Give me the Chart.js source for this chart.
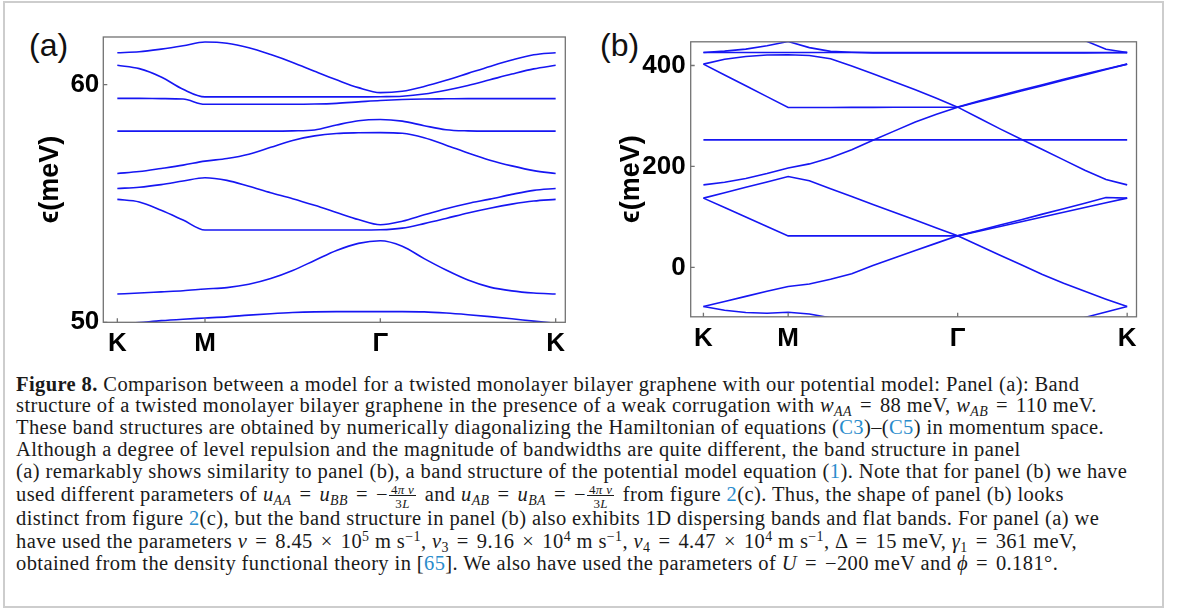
<!DOCTYPE html>
<html><head><meta charset="utf-8">
<script src="https://cdn.jsdelivr.net/npm/chart.js@4/dist/chart.umd.min.js"></script>
<style>
html,body{margin:0;padding:0;background:#fff;}
body{width:1179px;height:613px;position:relative;overflow:hidden;}
#frame{position:absolute;left:3px;top:1px;width:1161px;height:607px;border:2px solid #cdcdcd;box-sizing:border-box;}
.plab{position:absolute;font-family:"Liberation Sans",Arial,sans-serif;font-size:32px;line-height:32px;color:#111;}
canvas{position:absolute;top:0;}
.cap{position:absolute;left:16px;font-family:"Liberation Serif","Times New Roman",serif;font-size:20.5px;letter-spacing:0.4px;line-height:22px;white-space:nowrap;color:#1a1a1a;}
.cap i{font-style:italic;}
.cap a{color:#2a8ccc;text-decoration:none;}
.cap .o{margin:0 2.5px;}
.cap sub{font-size:0.68em;vertical-align:baseline;position:relative;top:0.3em;line-height:0;}
.cap sup{font-size:0.68em;vertical-align:baseline;position:relative;top:-0.48em;line-height:0;}
.fr{display:inline-flex;flex-direction:column;align-items:center;vertical-align:7px;font-size:13px;letter-spacing:0.3px;line-height:11px;margin:0 3px 0 1px;}
.fr .n{border-bottom:1px solid #1a1a1a;padding:0 2px;}
.fr .d{padding-top:2px;}
</style>
</head>
<body>
<div id="frame"></div>
<div class="plab" style="left:29px;top:29px;">(a)</div>
<div class="plab" style="left:600px;top:29px;">(b)</div>
<canvas id="ca" width="580" height="360" style="left:0px;"></canvas>
<canvas id="cb" width="599" height="360" style="left:580px;"></canvas>

<div class="cap" style="top:372.5px;"><b>Figure 8.</b> Comparison between a model for a twisted monolayer bilayer graphene with our potential model: Panel (a): Band</div>
<div class="cap" style="top:394px;">structure of a twisted monolayer bilayer graphene in the presence of a weak corrugation with <i>w</i><sub><i>AA</i></sub> <span class="o">=</span> 88 meV, <i>w</i><sub><i>AB</i></sub> <span class="o">=</span> 110 meV.</div>
<div class="cap" style="top:416px;">These band structures are obtained by numerically diagonalizing the Hamiltonian of equations (<a>C3</a>)–(<a>C5</a>) in momentum space.</div>
<div class="cap" style="top:437.5px;">Although a degree of level repulsion and the magnitude of bandwidths are quite different, the band structure in panel</div>
<div class="cap" style="top:459.5px;">(a) remarkably shows similarity to panel (b), a band structure of the potential model equation (<a>1</a>). Note that for panel (b) we have</div>
<div class="cap" style="top:483px;">used different parameters of <i>u</i><sub><i>AA</i></sub> <span class="o">=</span> <i>u</i><sub><i>BB</i></sub> <span class="o">=</span> −<span class="fr"><span class="n">4<i>π v</i></span><span class="d">3<i>L</i></span></span> and <i>u</i><sub><i>AB</i></sub> <span class="o">=</span> <i>u</i><sub><i>BA</i></sub> <span class="o">=</span> −<span class="fr"><span class="n">4<i>π v</i></span><span class="d">3<i>L</i></span></span> from figure <a>2</a>(c). Thus, the shape of panel (b) looks</div>
<div class="cap" style="top:506.5px;">distinct from figure <a>2</a>(c), but the band structure in panel (b) also exhibits 1D dispersing bands and flat bands. For panel (a) we</div>
<div class="cap" style="top:529.5px;">have used the parameters <i>v</i> <span class="o">=</span> 8.45 <span class="o">×</span> 10<sup>5</sup> m s<sup>−1</sup>, <i>v</i><sub>3</sub> <span class="o">=</span> 9.16 <span class="o">×</span> 10<sup>4</sup> m s<sup>−1</sup>, <i>v</i><sub>4</sub> <span class="o">=</span> 4.47 <span class="o">×</span> 10<sup>4</sup> m s<sup>−1</sup>, Δ <span class="o">=</span> 15 meV, <i>γ</i><sub>1</sub> <span class="o">=</span> 361 meV,</div>
<div class="cap" style="top:551.5px;">obtained from the density functional theory in [<a>65</a>]. We also have used the parameters of <i>U</i> <span class="o">=</span> −200 meV and <i>ϕ</i> <span class="o">=</span> 0.181°.</div>

<script>
// ---------- data ----------
const kPath = [0, 0.25, 0.5, 0.75, 1, 1.25, 1.5, 1.75, 2, 2.25, 2.5, 2.75, 3, 3.25, 3.5, 3.75, 4, 4.25, 4.5, 4.75, 5];
const kTicks = [0, 1, 3, 5];
const kLabels = ['K', 'M', 'Γ', 'K'];
const yTicksA = [50, 60];
const yTicksB = [0, 200, 400];
const yTitle = 'ϵ(meV)';

// panel (a): band energies (meV) along K-M-Γ-K
const bandA1 = [61.34, 61.38, 61.49, 61.63, 61.79, 61.74, 61.55, 61.26, 60.93, 60.56, 60.2, 59.87, 59.66, 59.72, 59.92, 60.18, 60.47, 60.76, 61.03, 61.25, 61.34];
const bandA2 = [60.81, 60.67, 60.32, 59.8, 59.48, 59.48, 59.48, 59.48, 59.48, 59.48, 59.48, 59.48, 59.49, 59.51, 59.6, 59.76, 59.96, 60.2, 60.44, 60.66, 60.81];
const bandA3 = [59.42, 59.42, 59.41, 59.39, 59.17, 59.17, 59.17, 59.17, 59.17, 59.18, 59.21, 59.27, 59.33, 59.37, 59.39, 59.4, 59.41, 59.41, 59.41, 59.41, 59.41];
const bandA4 = [58.04, 58.04, 58.04, 58.04, 58.04, 58.04, 58.04, 58.04, 58.05, 58.09, 58.3, 58.48, 58.53, 58.46, 58.27, 58.1, 58.05, 58.04, 58.04, 58.04, 58.04];
const bandA5 = [56.26, 56.34, 56.47, 56.61, 56.78, 56.89, 57.07, 57.36, 57.65, 57.84, 57.94, 57.97, 57.98, 57.95, 57.76, 57.45, 57.12, 56.82, 56.58, 56.38, 56.26];
const bandA6 = [55.63, 55.68, 55.79, 55.94, 56.08, 55.97, 55.72, 55.45, 55.2, 54.92, 54.62, 54.32, 54.1, 54.25, 54.52, 54.78, 55.0, 55.18, 55.38, 55.55, 55.63];
const bandA7 = [55.17, 55.06, 54.71, 54.3, 53.88, 53.88, 53.88, 53.88, 53.88, 53.88, 53.88, 53.88, 53.89, 53.96, 54.15, 54.37, 54.6, 54.8, 54.97, 55.1, 55.17];
const bandA8 = [51.19, 51.23, 51.28, 51.33, 51.4, 51.46, 51.6, 51.84, 52.18, 52.6, 53.02, 53.32, 53.43, 53.2, 52.68, 52.2, 51.78, 51.48, 51.32, 51.23, 51.19];
const bandA9 = [49.92, 49.99, 50.07, 50.13, 50.18, 50.23, 50.3, 50.36, 50.41, 50.44, 50.45, 50.45, 50.45, 50.45, 50.44, 50.39, 50.32, 50.24, 50.15, 50.05, 49.96];

// panel (b): band energies (meV) along K-M-Γ-K (null = outside the window)
const bandB0 = [null, null, null, null, null, null, null, null, null, null, null, null, null, null, null, null, null, 472, 449.5, 432.3, 425.8];
const bandB1 = [425.8, 425.8, 425.8, 425.8, 425.8, 425.8, 425.8, 425.8, 425.8, 425.8, 425.8, 425.8, 425.8, 425.8, 425.8, 425.8, 425.8, 425.8, 425.8, 425.8, 425.8];
const bandB2 = [425.8, 428.5, 432.5, 439, 447.5, 435.5, 428, 426.2, 425, 425, 425, 425, 425, 425, 425, 425, 425, 425, 425, 425.2, 425.5];
const bandB3 = [402.8, 412.5, 418, 420.8, 421.3, 420, 413.5, 399, 383.5, 368, 352, 335, 317.5, 296, 274.5, 254, 233.5, 213, 192.5, 174, 163.5];
const bandB4 = [402.8, 381.3, 359.8, 338.3, 316.8, 316.8, 316.9, 317, 317.1, 317.2, 317.3, 317.4, 317.5, 329.5, 340.5, 351.3, 362, 372.5, 383, 393.2, 402.8];
const bandB5 = [163.5, 168.5, 176, 186, 197, 205, 217, 233, 252, 270, 288, 303.5, 317.5, 328.2, 338.8, 349.5, 360.1, 370.8, 381.5, 392.1, 402.8];
const bandB6 = [252.7, 252.7, 252.7, 252.7, 252.7, 252.7, 252.7, 252.7, 252.7, 252.7, 252.7, 252.7, 252.7, 252.7, 252.7, 252.7, 252.7, 252.7, 252.7, 252.7, 252.7];
const bandB7 = [137.2, 147.9, 158.6, 169.3, 180, 171.5, 156, 140.4, 124.8, 109.2, 93.6, 78, 62.4, 43.3, 24, 5, -14.3, -31.5, -47.5, -63, -77.5];
const bandB8 = [137.2, 118.5, 99.8, 81.1, 62.4, 62.4, 62.4, 62.4, 62.4, 62.4, 62.4, 62.4, 62.4, 71.8, 81.1, 90.4, 99.8, 109.2, 118.5, 127.9, 137.2];
const bandB9 = [-77.5, -67.5, -57.5, -47.5, -38, -33, -23.5, -12.5, 3.5, 18.5, 33.5, 48, 62.4, 73, 84, 94.5, 105.5, 116, 127, 138.5, 137.2];
const bandB10 = [-77.5, -85, -89.5, -91, -89, -92.5, -100, -110, null, null, null, null, null, null, null, null, null, null, null, null, null];
const bandB11 = [null, null, null, null, null, null, null, null, null, null, null, null, null, null, null, null, -125, -111, -99.2, -88.4, -77.5];

const bandsA = [bandA1, bandA2, bandA3, bandA4, bandA5, bandA6, bandA7, bandA8, bandA9];
const bandsB = [bandB0, bandB1, bandB2, bandB3, bandB4, bandB5, bandB6, bandB7, bandB8, bandB9, bandB10, bandB11];

// ---------- drawing ----------
const LINE = '#1616f2';
const FONT = '"Liberation Sans", Arial, sans-serif';

const framePlugin = {
  id: 'frameTicks',
  afterDraw(chart) {
    const {ctx, chartArea: a, scales: {x, y}} = chart;
    ctx.save();
    ctx.strokeStyle = '#727272';
    ctx.lineWidth = 1.3;
    ctx.strokeRect(a.left, a.top, a.right - a.left, a.bottom - a.top);
    ctx.beginPath();
    x.ticks.forEach(t => { const p = x.getPixelForValue(t.value); ctx.moveTo(p, a.bottom); ctx.lineTo(p, a.bottom - 4); });
    y.ticks.forEach(t => { const p = y.getPixelForValue(t.value); ctx.moveTo(a.left, p); ctx.lineTo(a.left + 4, p); });
    ctx.stroke();
    ctx.restore();
  }
};

function makeChart(id, bands, geo, ymin, ymax, yTicks, smooth) {
  const datasets = bands.map(b => ({
    data: b.map((e, i) => ({x: kPath[i], y: e})),
    borderColor: LINE,
    borderWidth: 1.6,
    pointRadius: 0,
    fill: false,
    tension: 0,
    cubicInterpolationMode: smooth ? 'monotone' : 'default',
    spanGaps: false
  }));
  return new Chart(document.getElementById(id), {
    type: 'line',
    data: {datasets},
    options: {
      responsive: false,
      maintainAspectRatio: false,
      devicePixelRatio: 1,
      animation: false,
      events: [],
      layout: {padding: {left: 0, top: geo.top, right: geo.right, bottom: 0}},
      plugins: {legend: {display: false}, tooltip: {enabled: false}, title: {display: false}},
      scales: {
        x: {
          type: 'linear', min: geo.xmin, max: geo.xmax,
          afterBuildTicks: s => { s.ticks = kTicks.map(v => ({value: v})); },
          afterFit: s => { s.height = geo.xh; },
          grid: {display: false, drawTicks: false},
          border: {display: false},
          ticks: {autoSkip: false, maxRotation: 0, padding: geo.xpad, color: '#000',
                  font: {family: FONT, size: 26, weight: 'bold'},
                  callback: (v, i) => kLabels[i]}
        },
        y: {
          type: 'linear', min: ymin, max: ymax,
          afterBuildTicks: s => { s.ticks = yTicks.map(v => ({value: v})); },
          afterFit: s => { s.width = geo.yw; },
          grid: {display: false, drawTicks: false},
          border: {display: false},
          ticks: {padding: geo.ypad, color: '#000', font: {family: FONT, size: 26, weight: 'bold'},
                  callback: v => String(v)},
          title: {display: true, text: yTitle, color: '#000',
                  font: {family: FONT, size: 27, weight: 'bold'},
                  padding: {top: geo.tpad, bottom: 0}}
        }
      }
    },
    plugins: [framePlugin]
  });
}

makeChart('ca', bandsA, {top: 37, right: 14.7, xh: 37.7, yw: 103.3, xmin: -0.16, xmax: 5.11, xpad: 6, ypad: 4, tpad: 34.5}, 50, 62, yTicksA, true);
makeChart('cb', bandsB, {top: 41.8, right: 42.5, xh: 43.2, yw: 110.7, xmin: -0.15, xmax: 5.11, xpad: 6, ypad: 5, tpad: 35.5}, -98, 447, yTicksB, false);
</script>
</body></html>
